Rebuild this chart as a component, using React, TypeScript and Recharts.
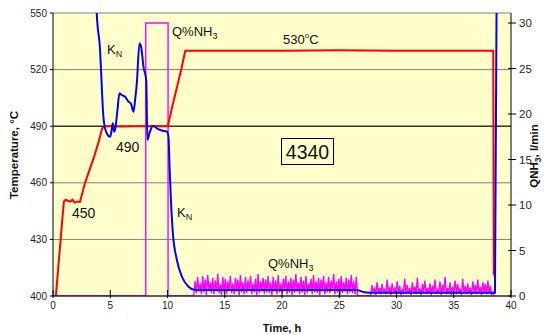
import { LineChart, Line, XAxis, YAxis, CartesianGrid, ReferenceLine } from "recharts";

// temperature, °C (left axis)
const tempTime = [0.25, 0.5, 0.75, 0.95, 1.1, 1.3, 1.5, 1.7, 1.9, 2.1, 2.36, 2.8, 3.2, 3.6, 4.0, 4.3, 4.6, 5.0, 6.0, 7.0, 8.0, 9.0, 10.03, 10.4, 10.8, 11.2, 11.55, 12, 15, 20, 25, 30, 35, 38.45, 38.5];
const tempValue = [400, 418, 436, 450, 451, 450.5, 450, 451, 449.5, 450, 450, 460, 467, 474, 482, 489, 490, 490, 489.8, 490, 490, 490, 490, 500, 510, 520, 530, 530, 530, 530, 530.3, 530, 530, 530, 411];

// KN curve, drawn in temperature-axis units
const knTime = [3.75, 3.82, 4.11, 4.26, 4.4, 4.64, 4.99, 5.15, 5.22, 5.34, 5.45, 5.63, 5.8, 6.0, 6.3, 6.59, 6.8, 7.03, 7.17, 7.32, 7.55, 7.7, 7.9, 8.14, 8.25, 8.43, 8.72, 9.07, 9.51, 9.95, 10.09, 10.18, 10.3, 10.47, 10.82, 11.26, 11.84, 12.4, 20, 26.5, 27.2, 28, 38.6, 38.75];
const knValue = [565, 550, 530.5, 511, 495, 487, 484.4, 489, 491.5, 487, 489, 498.6, 507.4, 506.5, 505.6, 503, 502, 497.7, 503.9, 512.7, 533.9, 532, 521.6, 514.5, 482.7, 486.3, 490.3, 488.9, 487.7, 487.1, 484, 468.5, 450.9, 433.2, 419.1, 410.2, 404.9, 403.2, 403.2, 403.2, 402, 401.7, 401.7, 565];

// QNH3, l/min (right axis)
const qTime = [0, 8.1, 8.1, 10.05, 10.05, 12.3];
const qValue = [0, 0, 30, 30, 0, 0];
const pulse1Start = 12.3;
const pulse1 = [
  0.2, 1.6, 0.3, 2.1, 0.5, 1.4, 0.2, 2.2, 0.4, 1.8, 0.1, 2.3, 0.6, 1.5, 0.3, 2.0, 0.2, 1.7, 0.5, 2.4,
  0.3, 1.3, 0.1, 2.1, 0.4, 1.9, 0.2, 1.6, 0.6, 2.2, 0.3, 1.4, 0.2, 2.0, 0.5, 1.8, 0.1, 2.3, 0.4, 1.5,
  0.2, 2.1, 0.3, 1.7, 0.6, 2.2, 0.2, 1.4, 0.4, 1.9, 0.1, 2.4, 0.3, 1.6, 0.5, 2.0, 0.2, 1.8, 0.4, 2.2,
  0.3, 1.5, 0.1, 2.1, 0.5, 1.7, 0.2, 2.3, 0.4, 1.4, 0.3, 1.9, 0.6, 2.2, 0.2, 1.6, 0.4, 2.0, 0.1, 1.8,
  0.3, 2.4, 0.5, 1.5, 0.2, 2.1, 0.4, 1.7, 0.1, 2.2, 0.3, 1.4, 0.6, 1.9, 0.2, 2.3, 0.4, 1.6, 0.3, 2.0,
  0.1, 1.8, 0.5, 2.2, 0.2, 1.5, 0.4, 2.1, 0.3, 1.7, 0.6, 2.4, 0.2, 1.6, 0.4, 1.9, 0.1, 2.2, 0.3, 1.5,
  0.5, 2.0, 0.2, 1.8, 0.4, 2.3, 0.3, 1.6, 0.2, 2.1,
];
const pulse2Start = 27.75;
const pulse2 = [
  0.2, 1.2, 0.4, 0.8, 0.1, 1.5, 0.3, 0.9, 0.2, 1.3, 0.5, 0.7, 0.2, 1.8, 0.3, 1.0, 0.1, 1.4, 0.4, 0.8,
  0.2, 1.6, 0.3, 1.1, 0.1, 0.7, 0.4, 1.9, 0.2, 1.2, 0.3, 0.9, 0.1, 1.5, 0.4, 1.0, 0.2, 2.0, 0.3, 0.8,
  0.1, 1.3, 0.4, 1.7, 0.2, 0.9, 0.3, 1.4, 0.1, 1.1, 0.4, 1.8, 0.2, 0.7, 0.3, 1.6, 0.1, 1.2, 0.4, 2.1,
  0.2, 0.9, 0.3, 1.5, 0.1, 1.0, 0.4, 1.7, 0.2, 1.3, 0.3, 0.8, 0.1, 1.9, 0.4, 1.1, 0.2, 1.4, 0.3, 0.9,
  0.1, 1.6, 0.4, 1.2, 0.2, 1.8, 0.3, 1.0, 0.1, 1.5, 0.4, 1.3, 0.2, 1.7, 0.3, 1.1, 0.2, 0.4,
];
const pulseStep = 0.11;

const timeTicks = [0, 5, 10, 15, 20, 25, 30, 35, 40];
const tempTicks = [400, 430, 460, 490, 520, 550];
const qTicks = [0, 5, 10, 15, 20, 25, 30];

const tempData = tempTime.map((t, i) => ({ t, v: tempValue[i] }));
const knData = knTime.map((t, i) => ({ t, v: knValue[i] }));
const qData = [
  ...qTime.map((t, i) => ({ t, v: qValue[i] })),
  ...pulse1.map((v, i) => ({ t: pulse1Start + i * pulseStep, v })),
  { t: 26.6, v: 0 },
  { t: pulse2Start, v: 0 },
  ...pulse2.map((v, i) => ({ t: pulse2Start + i * pulseStep, v })),
  { t: 38.5, v: 0 },
];

const FONT = "'Liberation Sans', Arial, sans-serif";

const XTick = ({ x, y, payload }: any) => (
  <g>
    <line x1={x} x2={x} y1={y - 8} y2={y} stroke="#000" />
    <text x={x} y={y + 11} textAnchor="middle" fontSize={10} fill="#222" fontFamily={FONT}>
      {payload.value}
    </text>
  </g>
);

const QTick = ({ x, y, payload }: any) => (
  <g>
    <line x1={x - 11} x2={x - 3} y1={y} y2={y} stroke="#000" />
    <text x={x} y={y + 4} textAnchor="start" fontSize={11.5} fill="#222" fontFamily={FONT}>
      {payload.value}
    </text>
  </g>
);

function Notes() {
  return (
    <g fontFamily={FONT} fill="#111">
      <text x={107} y={54} fontSize={13}>
        K<tspan fontSize={9} dy={3}>N</tspan>
      </text>
      <text x={172} y={36} fontSize={13}>
        Q%NH<tspan fontSize={9} dy={3}>3</tspan>
      </text>
      <text x={283} y={44} fontSize={13}>
        530<tspan fontSize={8} dy={-6}>o</tspan>
        <tspan dy={6}>C</tspan>
      </text>
      <text x={116} y={152} fontSize={14}>490</text>
      <text x={72} y={218} fontSize={14}>450</text>
      <rect x={281.5} y={138.5} width={52} height={26} fill="none" stroke="#000" />
      <text x={307.5} y={159} fontSize={19.5} textAnchor="middle">4340</text>
      <text x={177} y={217} fontSize={13}>
        K<tspan fontSize={9} dy={3}>N</tspan>
      </text>
      <text x={268} y={268} fontSize={13}>
        Q%NH<tspan fontSize={9} dy={3}>3</tspan>
      </text>
      <text
        x={18}
        y={155}
        transform="rotate(-90 18 155)"
        textAnchor="middle"
        fontSize={11.5}
        fontWeight="bold"
      >
        Temperature, °C
      </text>
      <text x={282} y={332} textAnchor="middle" fontSize={11} fontWeight="bold">
        Time, h
      </text>
      <text
        x={538}
        y={156}
        transform="rotate(-90 538 156)"
        textAnchor="middle"
        fontSize={11.5}
        fontWeight="bold"
      >
        QNH<tspan fontSize={8.5} dy={3}>3</tspan>
        <tspan dy={-3}>, l/min</tspan>
      </text>
    </g>
  );
}

export default function App() {
  return (
    <div style={{ position: "absolute", left: 0, top: 0, width: 545, height: 335, background: "#fff", overflow: "hidden" }}>
      <LineChart width={545} height={335} margin={{ top: 13, right: 4, left: 13, bottom: 9 }}>
        <CartesianGrid yAxisId="temp" vertical={false} stroke="#808080" fill="#FFFFCC" fillOpacity={1} />
        <XAxis
          type="number"
          dataKey="t"
          domain={[0, 40]}
          ticks={timeTicks}
          height={30}
          axisLine={{ stroke: "#000" }}
          tickLine={false}
          tickSize={0}
          tick={<XTick />}
        />
        <YAxis
          yAxisId="temp"
          type="number"
          domain={[400, 550]}
          ticks={tempTicks}
          allowDataOverflow
          width={40}
          tickSize={3}
          tickMargin={3}
          axisLine={{ stroke: "#000" }}
          tickLine={{ stroke: "#000" }}
          tick={{ fontSize: 10, fill: "#222", fontFamily: FONT }}
        />
        <YAxis
          yAxisId="q"
          orientation="right"
          type="number"
          domain={[0, 31.1]}
          ticks={qTicks}
          allowDataOverflow
          width={30}
          tickSize={4}
          tickMargin={4}
          axisLine={{ stroke: "#000" }}
          tickLine={false}
          tick={<QTick />}
        />
        <ReferenceLine yAxisId="temp" y={490} stroke="#000" strokeWidth={1} />
        <Line
          yAxisId="q"
          data={qData}
          dataKey="v"
          type="linear"
          stroke="#FF00FF"
          strokeWidth={1.4}
          dot={false}
          isAnimationActive={false}
        />
        <Line
          yAxisId="temp"
          data={tempData}
          dataKey="v"
          type="linear"
          stroke="#FF0000"
          strokeWidth={2}
          dot={false}
          isAnimationActive={false}
        />
        <Line
          yAxisId="temp"
          data={knData}
          dataKey="v"
          type="monotone"
          stroke="#0000FF"
          strokeWidth={2}
          dot={false}
          isAnimationActive={false}
        />
        <Notes />
      </LineChart>
    </div>
  );
}
